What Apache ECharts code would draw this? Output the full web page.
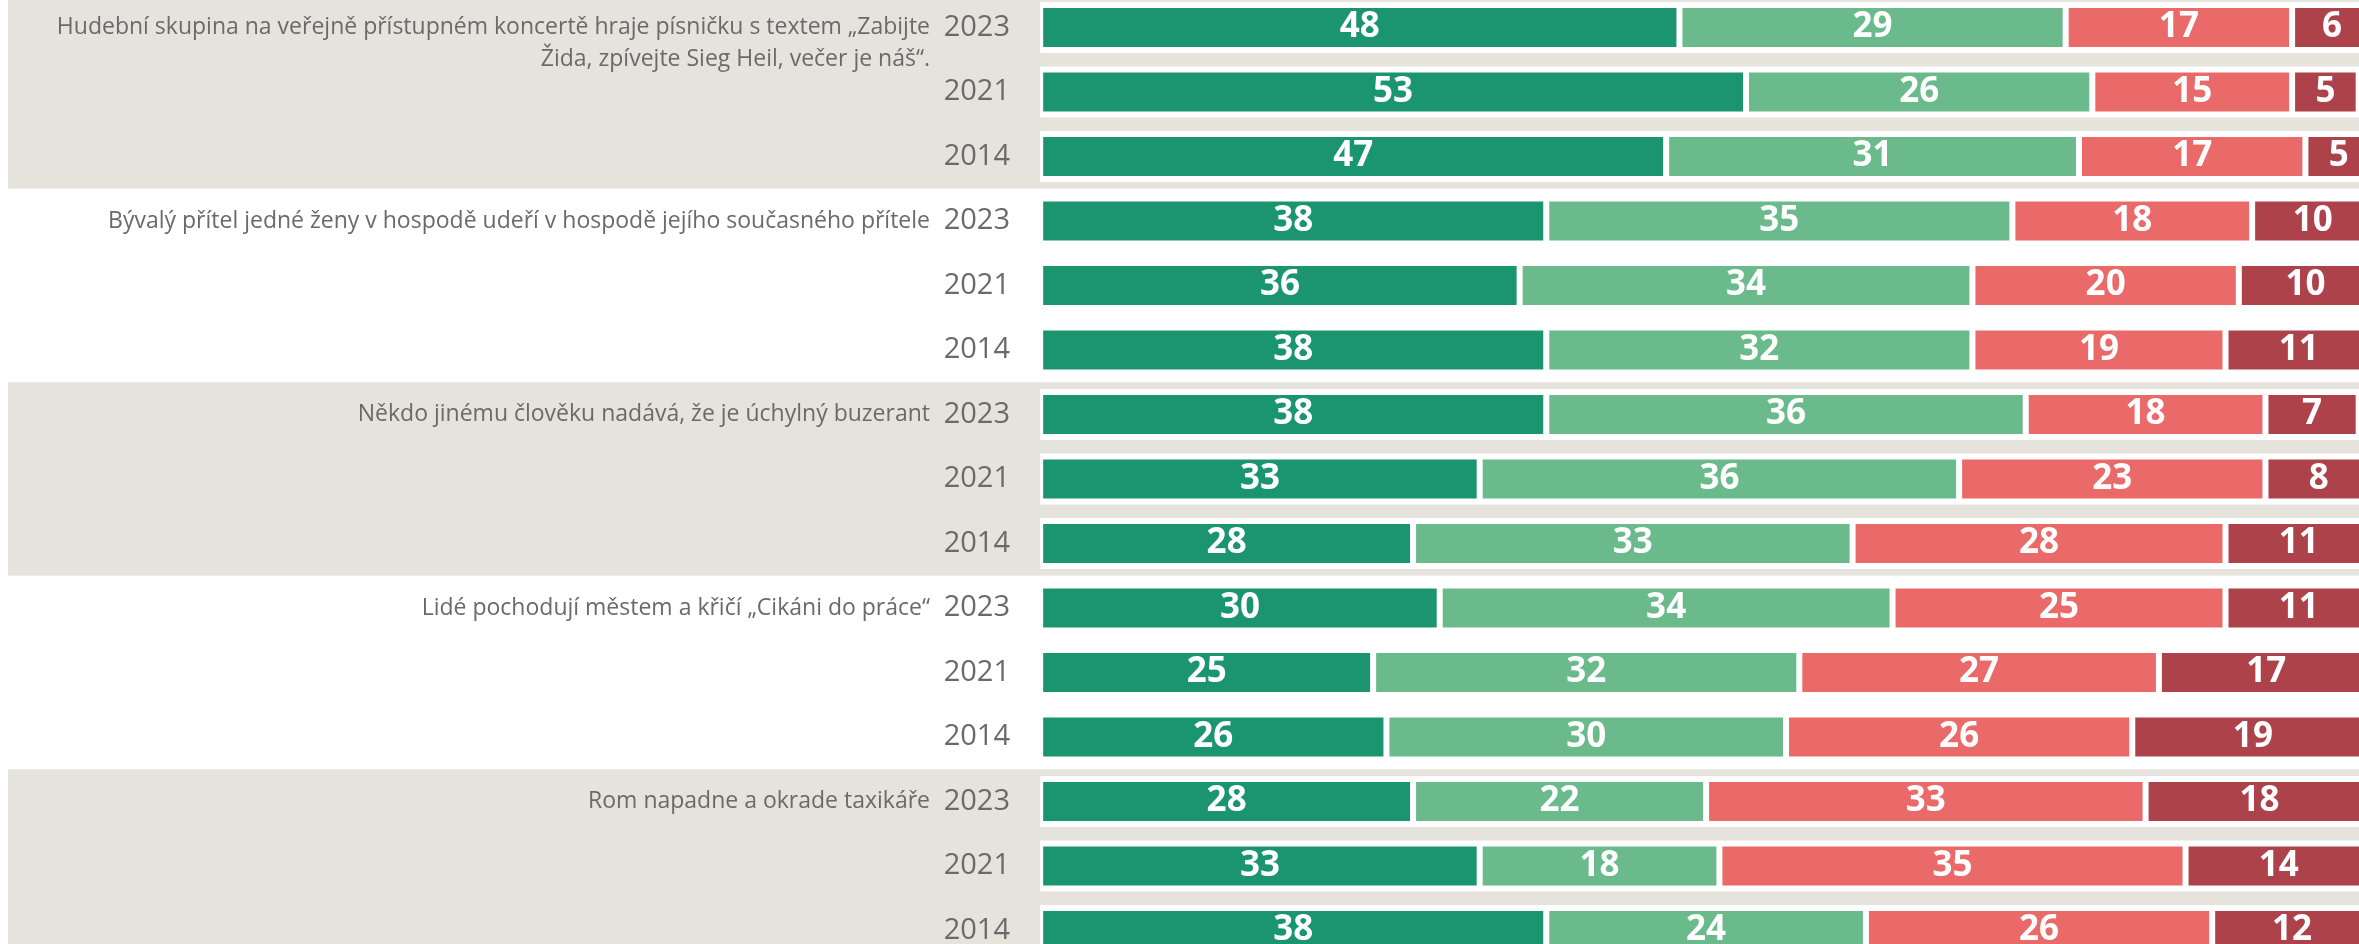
<!DOCTYPE html>
<html>
<head>
<meta charset="utf-8">
<script src="https://cdn.jsdelivr.net/npm/echarts@6/dist/echarts.min.js"></script>
<style>
  html, body { margin: 0; padding: 0; background: #fff; }
  #chart { width: 2359px; height: 944px; }
</style>
</head>
<body>
<div id="chart"></div>
<script>
// skupiny výroků (popisky vlevo)
const groups = [
  "Hudební skupina na veřejně přístupném koncertě hraje písničku s textem „Zabijte\nŽida, zpívejte Sieg Heil, večer je náš“.",
  "Bývalý přítel jedné ženy v hospodě udeří v hospodě jejího současného přítele",
  "Někdo jinému člověku nadává, že je úchylný buzerant",
  "Lidé pochodují městem a křičí „Cikáni do práce“",
  "Rom napadne a okrade taxikáře"
];
const years = ["2023", "2021", "2014"];

// hodnoty v % (po řádcích: skupina x rok)
const darkGreen = [48, 53, 47, 38, 36, 38, 38, 33, 28, 30, 25, 26, 28, 33, 38];
const lightGreen = [29, 26, 31, 35, 34, 32, 36, 36, 33, 34, 32, 30, 22, 18, 24];
const lightRed = [17, 15, 17, 18, 20, 19, 18, 23, 28, 25, 27, 26, 33, 35, 26];
const darkRed = [6, 5, 5, 10, 10, 11, 7, 8, 11, 11, 17, 19, 18, 14, 12];
// bílý podklad za každým řádkem (celá škála 100 %)
const track = [100, 100, 100, 100, 100, 100, 100, 100, 100, 100, 100, 100, 100, 100, 100];

const colors = ["#1b9570", "#6bba8c", "#ea6a6a", "#ad424b"];
const bandColor = "#e6e3dd";

// klíče kategorií (skupina|rok)
const keys = [];
groups.forEach((g, gi) => {
  years.forEach((y) => keys.push(gi + "|" + y));
});

const chart = echarts.init(document.getElementById("chart"));

const makeSeries = (data, i) => ({
  type: "bar",
  stack: "total",
  data: data,
  barWidth: 45,
  z: 3,
  itemStyle: {
    color: colors[i],
    borderColor: "#ffffff",
    borderWidth: 3,
  },
  label: {
    show: true,
    position: "inside",
    color: "#ffffff",
    fontFamily: "Open Sans",
    fontWeight: "bold",
    fontSize: 35,
  },
  silent: true,
});

const hiddenCat = {
  type: "category",
  inverse: true,
  position: "left",
  offset: -1032,
  data: keys,
  show: false,
  axisLine: { onZero: false },
};

const option = {
  animation: false,
  grid: {
    left: 8,
    top: -4.75,
    width: 2364,
    height: 967.5,
    containLabel: false,
    outerBoundsMode: "none",
  },
  xAxis: {
    type: "value",
    min: -77.5,
    max: 100,
    show: false,
    splitLine: { show: false },
  },
  yAxis: [
    {
      type: "category",
      inverse: true,
      position: "left",
      offset: -1032,
      data: keys,
      axisLine: { show: false, onZero: false },
      axisTick: { show: false },
      axisLabel: {
        margin: 30,
        color: "#6a6a6a",
        fontFamily: "Open Sans",
        fontSize: 29,
        formatter: (v) => v.split("|")[1],
      },
      splitLine: { show: false },
      splitArea: {
        show: true,
        areaStyle: {
          color: [bandColor, bandColor, bandColor, "#ffffff", "#ffffff", "#ffffff"],
        },
      },
    },
    {
      type: "category",
      inverse: true,
      position: "left",
      offset: -922,
      data: keys,
      axisLine: { show: false, onZero: false },
      axisTick: { show: false },
      axisLabel: {
        margin: 0,
        color: "#6a6a6a",
        fontFamily: "Open Sans",
        fontSize: 23,
        lineHeight: 32,
        interval: 0,
        formatter: (v) => {
          const [gi, y] = v.split("|");
          if (y !== years[0]) return "";
          const text = groups[+gi];
          // víceřádkový popisek: první řádek zarovnat na řádek 2023
          const lines = text.split("\n");
          return lines.length > 1 ? "\n".repeat(lines.length - 1) + text : text;
        },
      },
      splitLine: { show: false },
      splitArea: { show: false },
    },
    hiddenCat,
  ],
  series: [
    {
      type: "bar",
      yAxisIndex: 2,
      data: track,
      barWidth: 51,
      z: 1,
      itemStyle: { color: "#ffffff" },
      silent: true,
    },
  ].concat([darkGreen, lightGreen, lightRed, darkRed].map(makeSeries)),
};

chart.setOption(option);
</script>
</body>
</html>
